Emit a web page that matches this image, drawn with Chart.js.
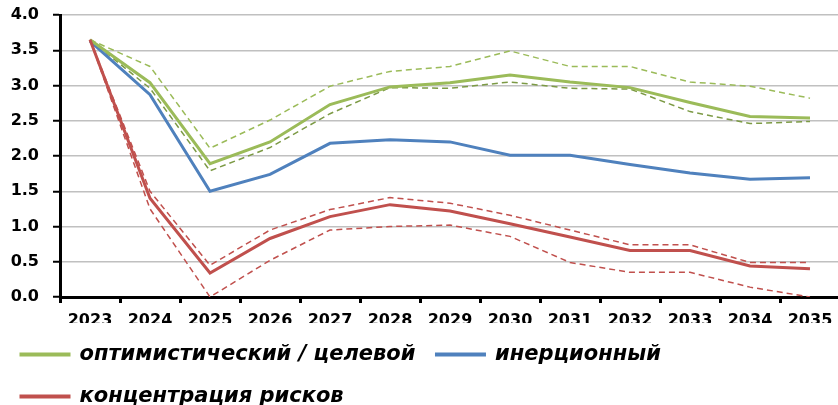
<!DOCTYPE html>
<html>
<head>
<meta charset="utf-8">
<script src="https://cdn.jsdelivr.net/npm/chart.js@4"></script>
<style>
  html, body { margin: 0; padding: 0; background: #fff; overflow: hidden; }
  #wrap { width: 838px; height: 405px; overflow: hidden; }
</style>
</head>
<body>
<div id="wrap"><canvas id="chart-area" width="846" height="417"></canvas></div>
<script>
// categories
var years = ['2023', '2024', '2025', '2026', '2027', '2028', '2029', '2030', '2031', '2032', '2033', '2034', '2035'];

// series
var optimistic     = [3.65, 3.04, 1.89, 2.20, 2.73, 2.98, 3.04, 3.15, 3.05, 2.97, 2.76, 2.56, 2.54];
var optimisticHigh = [3.65, 3.27, 2.11, 2.51, 2.99, 3.20, 3.27, 3.49, 3.27, 3.27, 3.05, 2.99, 2.82];
var optimisticLow  = [3.65, 2.96, 1.79, 2.12, 2.60, 2.97, 2.96, 3.05, 2.96, 2.95, 2.63, 2.46, 2.49];
var inertial       = [3.63, 2.87, 1.50, 1.74, 2.18, 2.23, 2.20, 2.01, 2.01, 1.88, 1.76, 1.67, 1.69];
var risk           = [3.65, 1.40, 0.34, 0.83, 1.14, 1.31, 1.22, 1.04, 0.85, 0.66, 0.66, 0.44, 0.40];
var riskHigh       = [3.65, 1.50, 0.45, 0.95, 1.24, 1.41, 1.33, 1.16, 0.95, 0.74, 0.74, 0.49, 0.49];
var riskLow        = [3.65, 1.25, 0.00, 0.52, 0.95, 1.00, 1.02, 0.86, 0.49, 0.35, 0.35, 0.14, 0.00];

var seriesNames = ['оптимистический / целевой', 'инерционный', 'концентрация рисков'];

var green = '#9bbb59';
var greenDark = '#7c9a45';
var blue = '#4f81bd';
var red = '#c0504d';
var font = 'DejaVu Sans';

function solid(label, data, color, order) {
  return {
    label: label, data: data, borderColor: color, backgroundColor: color,
    borderWidth: 3, pointRadius: 0, tension: 0, order: order
  };
}
function dashed(data, color) {
  return {
    label: '', data: data, borderColor: color, backgroundColor: color,
    borderWidth: 1.5, borderDash: [6, 4], pointRadius: 0, tension: 0, order: 5
  };
}

var ctx = document.getElementById('chart-area').getContext('2d');
new Chart(ctx, {
  type: 'line',
  data: {
    labels: years,
    datasets: [
      solid(seriesNames[0], optimistic, green, 1),
      solid(seriesNames[1], inertial, blue, 2),
      solid(seriesNames[2], risk, red, 0),
      dashed(optimisticHigh, green),
      dashed(optimisticLow, greenDark),
      dashed(riskHigh, red),
      dashed(riskLow, red)
    ]
  },
  options: {
    responsive: false,
    animation: false,
    layout: { padding: { top: 15, right: 6, left: 0, bottom: 0 } },
    plugins: {
      tooltip: { enabled: false },
      legend: {
        position: 'bottom',
        align: 'start',
        labels: {
          filter: function (item) { return item.datasetIndex < 3; },
          sort: function (a, b) { return a.datasetIndex - b.datasetIndex; },
          boxWidth: 48,
          boxHeight: 1,
          padding: 21,
          color: '#000',
          font: { family: font, size: 21, weight: 'bold', style: 'italic' }
        }
      }
    },
    scales: {
      x: {
        offset: true,
        afterFit: function (s) { s.height = 26; },
        grid: { offset: true, drawOnChartArea: false, tickLength: 6, tickColor: '#000', tickWidth: 3 },
        border: { display: true, color: '#000', width: 3 },
        ticks: {
          autoSkip: false, maxRotation: 0, padding: 8, color: '#000',
          font: { family: font, size: 16, weight: 'bold' }
        }
      },
      y: {
        min: 0,
        max: 4,
        afterFit: function (s) { s.width = 60; s.paddingTop = 0; },
        grid: { color: '#c0c0c0', lineWidth: 1.5, tickLength: 7, tickColor: '#000', tickWidth: 2 },
        border: { display: true, color: '#000', width: 3 },
        ticks: {
          stepSize: 0.5, padding: 14, color: '#000',
          font: { family: font, size: 16, weight: 'bold' },
          callback: function (v) { return Number(v).toFixed(1); }
        }
      }
    }
  }
});
</script>
</body>
</html>
